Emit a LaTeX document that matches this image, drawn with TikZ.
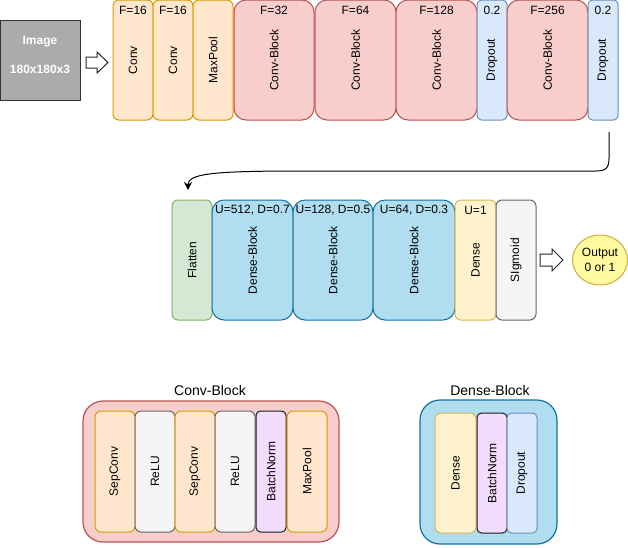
\documentclass[tikz,border=0pt]{standalone}
\usepackage{fontspec}
\setmainfont{Liberation Sans}
\usetikzlibrary{arrows.meta,shapes.geometric}

% draw.io style palette
\definecolor{orF}{HTML}{FFE6CC}\definecolor{orD}{HTML}{D79B00}
\definecolor{rdF}{HTML}{F8CECC}\definecolor{rdD}{HTML}{B85450}
\definecolor{blF}{HTML}{DAE8FC}\definecolor{blD}{HTML}{6C8EBF}
\definecolor{grF}{HTML}{D5E8D4}\definecolor{grD}{HTML}{82B366}
\definecolor{dbF}{HTML}{B1DDF0}\definecolor{dbD}{HTML}{10739E}
\definecolor{yeF}{HTML}{FFF2CC}\definecolor{yeD}{HTML}{D6B656}
\definecolor{gyF}{HTML}{F5F5F5}\definecolor{gyD}{HTML}{666666}
\definecolor{puF}{HTML}{F3DDFF}\definecolor{puD}{HTML}{1A1A1A}
\definecolor{imF}{HTML}{ABABAB}\definecolor{imD}{HTML}{333333}
\definecolor{ouF}{HTML}{FFFAA0}\definecolor{ouD}{HTML}{D6A93A}

\newcommand{\fs}{\fontsize{12}{15}\selectfont}
\newcommand{\fsbig}{\fontsize{14}{17}\selectfont}

\tikzset{
  % vertical layer: rotated so the label reads bottom to top
  layer/.style={draw, line width=1pt, rotate=90, inner sep=0pt, font=\fs,
    minimum width=120pt},
  w40/.style={minimum height=40pt, rounded corners=6pt},
  w30/.style={minimum height=30pt, rounded corners=4.5pt},
  w80/.style={minimum height=80pt, rounded corners=12pt},
  orange/.style={fill=orF, draw=orD},
  red/.style={fill=rdF, draw=rdD},
  blue/.style={fill=blF, draw=blD},
  green/.style={fill=grF, draw=grD},
  dblue/.style={fill=dbF, draw=dbD},
  yellow/.style={fill=yeF, draw=yeD},
  grey/.style={fill=gyF, draw=gyD},
  purple/.style={fill=puF, draw=puD},
  param/.style={font=\fs, inner sep=0pt},
  blockarrow/.style={draw=black!85, fill=white, line width=1pt, line join=miter},
  legend/.style={draw, line width=1.2pt, rounded corners=20pt, inner sep=0pt},
  legendtitle/.style={font=\fsbig, inner sep=0pt},
}

\begin{document}
\begin{tikzpicture}[x=1pt,y=-1pt]
\useasboundingbox (0,0) rectangle (628,547);

% ---- input image ----
\node[draw=imD, fill=imF, line width=1pt, minimum size=80pt, inner sep=0pt] (img) at (40,60) {};
\node[font=\fs\bfseries, text=white, align=center, inner sep=0pt] (imgtxt) at (40,55)
  {Image\\[14pt]180x180x3};
\draw[blockarrow] (86,57) -- (97,57) -- (97,52) -- (108,62.5) -- (97,73) -- (97,68) -- (86,68) -- cycle;

% ---- convolutional part ----
\node[layer,w40,orange] (c1) at (133,60) {Conv};
\node[layer,w40,orange] (c2) at (173,60) {Conv};
\node[layer,w40,orange] (mp) at (213,60) {MaxPool};
\node[layer,w80,red] (cb1) at (274,60) {Conv-Block};
\node[layer,w80,red,minimum height=81pt] (cb2) at (355.5,60) {Conv-Block};
\node[layer,w80,red,minimum height=81pt] (cb3) at (436.5,60) {Conv-Block};
\node[layer,w30,blue] (d1) at (492,60) {Dropout};
\node[layer,w80,red,minimum height=81pt] (cb4) at (547.5,60) {Conv-Block};
\node[layer,w30,blue] (d2) at (603,60) {Dropout};

\node[param] (pc1) at (133,10) {F=16};
\node[param] (pc2) at (173,10) {F=16};
\node[param] (pb1) at (274,10) {F=32};
\node[param] (pb2) at (355.5,10) {F=64};
\node[param] (pb3) at (436.5,10) {F=128};
\node[param] (pd1) at (492,10) {0.2};
\node[param] (pb4) at (547.5,10) {F=256};
\node[param] (pd2) at (603,10) {0.2};

% ---- dense part ----
\node[layer,w40,green] (fl) at (192,260) {Flatten};
\node[layer,w80,dblue,minimum height=81pt] (db1) at (252.5,260) {Dense-Block};
\node[layer,w80,dblue] (db2) at (333,260) {Dense-Block};
\node[layer,w80,dblue,minimum height=82pt] (db3) at (414,260) {Dense-Block};
\node[layer,w40,yellow,minimum height=41pt] (de) at (475.5,260) {Dense};
\node[layer,w40,grey] (sg) at (516,260) {SIgmoid};

\node[param] (pdb1) at (252.5,210) {U=512, D=0.7};
\node[param] (pdb2) at (333,210) {U=128, D=0.5};
\node[param] (pdb3) at (414,210) {U=64, D=0.3};
\node[param] (pde) at (475.5,210) {U=1};

\draw[blockarrow] (540,254) -- (552,254) -- (552,249) -- (563,260) -- (552,271) -- (552,266) -- (540,266) -- cycle;
\node[ellipse, draw=ouD, fill=ouF, line width=1pt, minimum width=55pt, minimum height=50pt,
  inner sep=0pt, align=center, font=\fs] (out) at (600,260) {Output\\0 or 1};

% ---- connector from the last dropout to flatten ----
\coordinate (cs) at (609,132);
\coordinate (ce) at (188,190);
\draw[line width=1pt, -{Stealth[length=8pt,width=8pt]}]
  (cs) -- (609,158) .. controls (609,168) and (606,171) .. (596,171)
  -- (300,171) .. controls (210,171) and (188,174) .. (ce);

% ---- Conv-Block legend ----
\node[legendtitle] (cbt) at (210,390) {Conv-Block};
\node[legend, red, minimum width=256pt, minimum height=141pt] (cbl) at (211,471.5) {};
\node[layer,w40,orange,minimum width=121pt] (sc1) at (115,471.5) {SepConv};
\node[layer,w40,grey,minimum width=121pt] (rl1) at (155,471.5) {ReLU};
\node[layer,w40,orange,minimum width=121pt] (sc2) at (195,471.5) {SepConv};
\node[layer,w40,grey,minimum width=121pt] (rl2) at (235,471.5) {ReLU};
\node[layer,w30,purple,minimum width=121pt] (bn1) at (271,471.5) {BatchNorm};
\node[layer,w40,orange,minimum width=121pt] (mp2) at (307,471.5) {MaxPool};

% ---- Dense-Block legend ----
\node[legendtitle] (dbt) at (490,390) {Dense-Block};
\node[legend, dblue, minimum width=137pt, minimum height=144pt] (dbl) at (488.5,472) {};
\node[layer,w40,yellow,minimum height=41pt] (dn) at (455.5,473) {Dense};
\node[layer,w30,purple] (bn2) at (492,473) {BatchNorm};
\node[layer,w30,blue] (dr) at (522,473) {Dropout};
\end{tikzpicture}
\end{document}
